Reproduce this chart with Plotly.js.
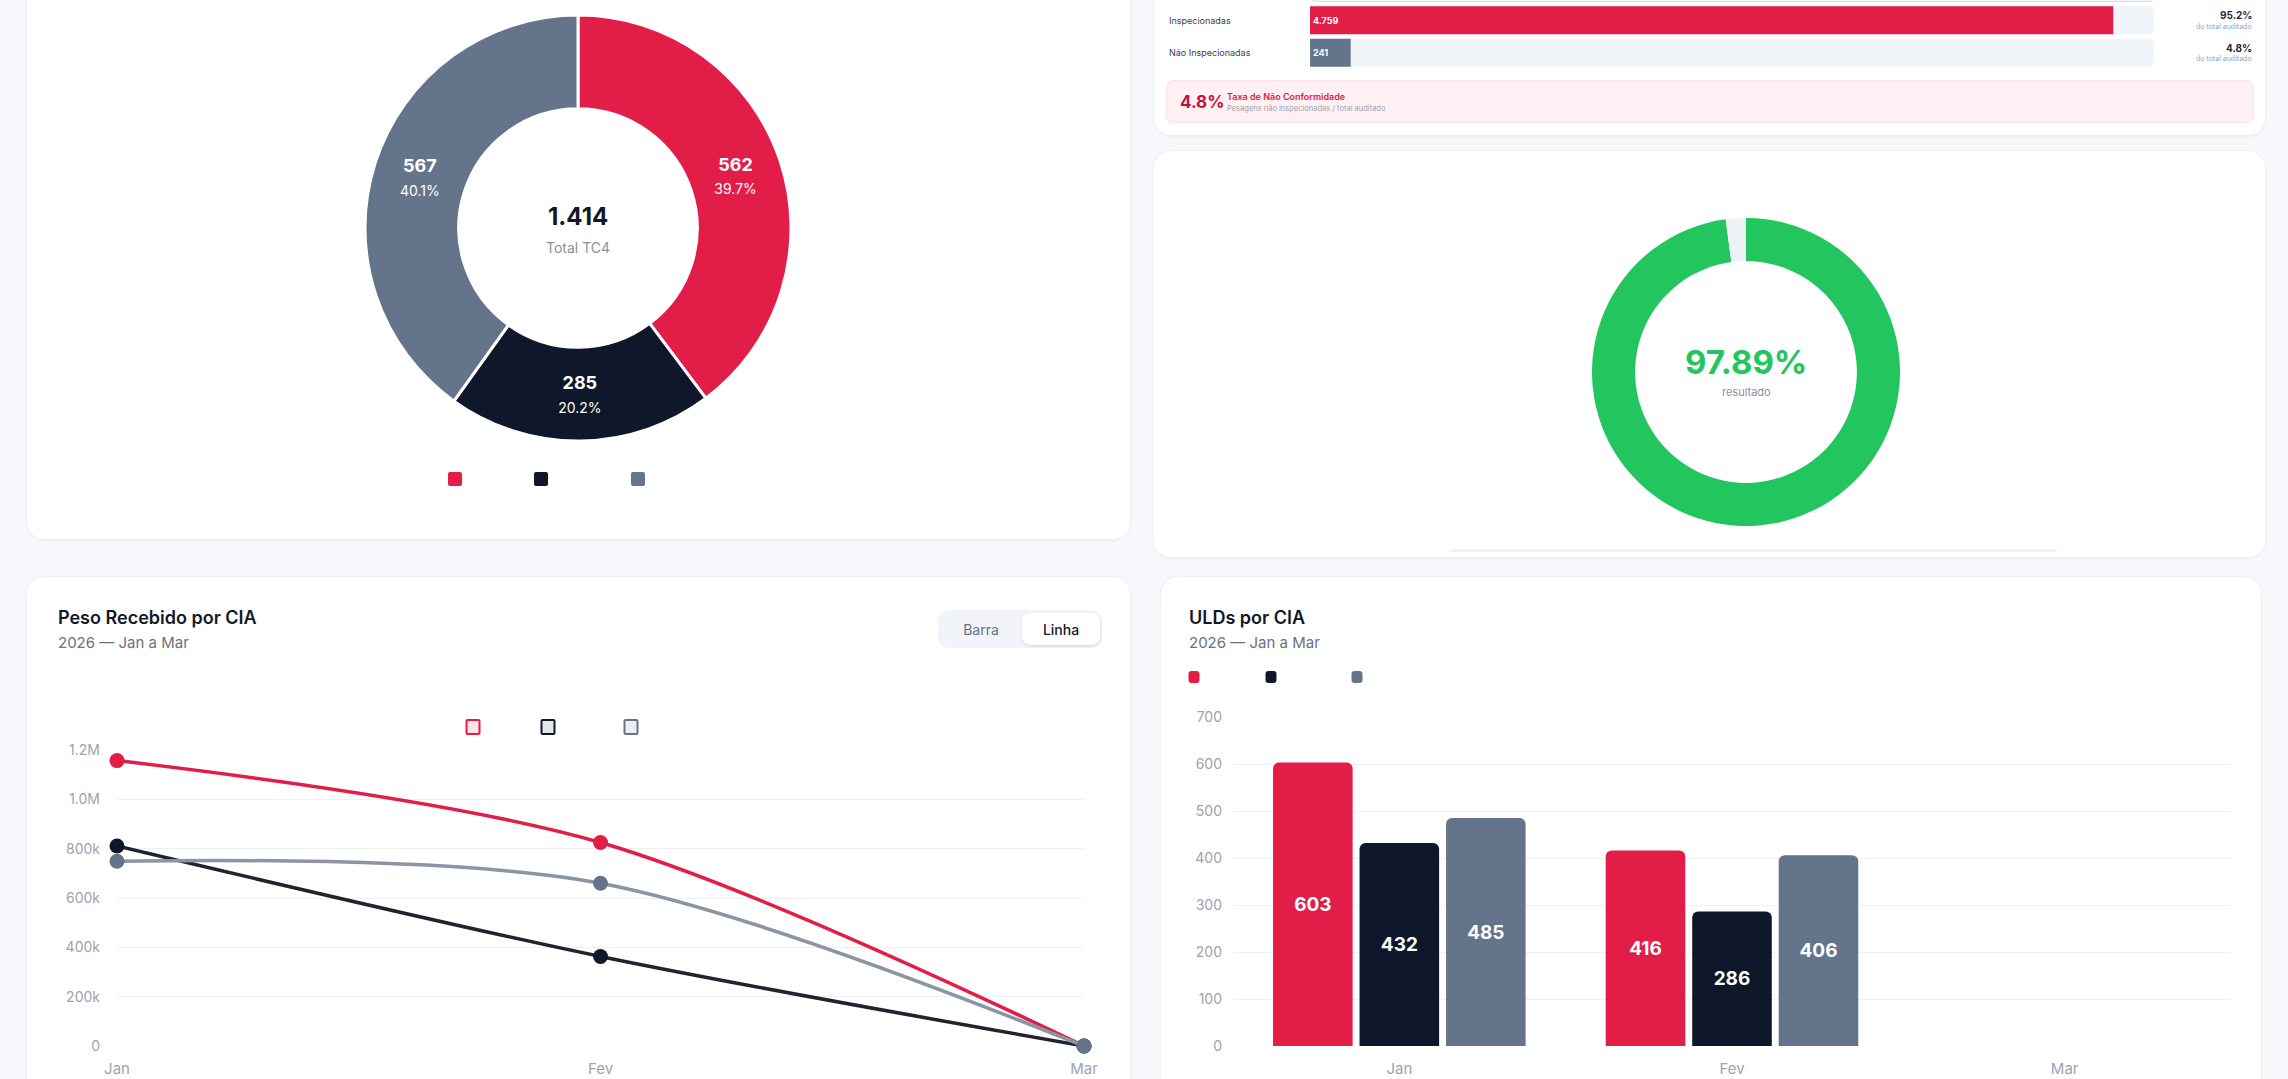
<!DOCTYPE html>
<html lang="pt-BR">
<head>
<meta charset="utf-8">
<title>Painel de Auditoria de Cargas</title>
<script src="https://cdn.plot.ly/plotly-3.0.1.min.js"></script>
<style>
  html, body { margin: 0; padding: 0; width: 2288px; height: 1079px; overflow: hidden;
    background: #f6f8fb; font-family: Inter, "Noto Sans", sans-serif; color: #111827; }
  .card { position: absolute; background: #fff; border: 1px solid #edf0f4; border-radius: 18px;
    box-shadow: 0 1px 3px rgba(15, 23, 42, 0.04); box-sizing: border-box; }
  .abs { position: absolute; }
  .plot { position: absolute; }
  .title { position: absolute; font-size: 18px; font-weight: 600; color: #111827; transform: translateY(-50%); white-space: nowrap; }
  .subtitle { position: absolute; font-size: 15px; color: #6b7280; transform: translateY(-50%); white-space: nowrap; }
  .swatch { position: absolute; transform: translate(-50%, -50%); box-sizing: border-box; }
  .toggle { position: absolute; left: 938px; top: 610px; width: 164px; height: 38px; background: #f1f4f8;
    border-radius: 10px; box-sizing: border-box; }
  .toggle span { position: absolute; top: 50%; transform: translate(-50%, -50%); font-size: 14px; }
  .toggle .on { position: absolute; left: 84px; top: 3px; width: 78px; height: 32px; background: #fff; border-radius: 8px;
    box-shadow: 0 1px 3px rgba(15, 23, 42, 0.12); }
  .rate { position: absolute; left: 1166px; top: 80px; width: 1088px; height: 43px; background: #fff1f3;
    border: 1px solid #fde3e8; border-radius: 7px; box-sizing: border-box; }
</style>
</head>
<body>

<!-- cards -->
<div class="card" style="left:26px; top:-30px; width:1105px; height:570px;"></div>
<div class="card" style="left:1153px; top:-30px; width:1113px; height:166px;"></div>
<div class="card" style="left:1153px; top:150px; width:1113px; height:408px; border-color:#f1f3f6;"></div>
<div class="card" style="left:26px; top:576px; width:1105px; height:540px;"></div>
<div class="card" style="left:1160px; top:576px; width:1102px; height:540px;"></div>

<!-- row above the audit bars, mostly out of view -->
<div class="abs" style="left:1310px; top:-26px; width:845px; height:28px; border:1px solid #dcdff0; border-radius:6px; background:#f3f5fb; box-sizing:border-box;"></div>

<!-- plots -->
<div id="donut" class="plot" style="left:365px; top:15px; width:426px; height:426px;"></div>
<div id="audit" class="plot" style="left:1167px; top:0px; width:1087px; height:72px;"></div>
<div id="gauge" class="plot" style="left:1592px; top:218px; width:308px; height:308px;"></div>
<div id="peso" class="plot" style="left:40px; top:700px; width:1070px; height:379px;"></div>
<div id="ulds" class="plot" style="left:1170px; top:690px; width:1080px; height:389px;"></div>

<!-- non-conformity rate box -->
<div class="rate">
  <div id="rateValue" class="abs" style="left:13px; top:50%; transform:translateY(-50%); font-size:17px; font-weight:700; color:#be123c;"></div>
  <div class="abs" style="left:60px; top:10px; font-size:9px; font-weight:600; color:#e11d48; white-space:nowrap;">Taxa de Não Conformidade</div>
  <div class="abs" style="left:60px; top:23px; font-size:7.5px; color:#9ca3af; white-space:nowrap;">Pesagens não inspecionadas / total auditado</div>
</div>

<!-- thin track under the gauge -->
<div class="abs" style="left:1451px; top:549px; width:606px; height:3px; background:#eef1f5; border-radius:2px;"></div>

<!-- panel headings -->
<div class="title" style="left:58px; top:617px;">Peso Recebido por CIA</div>
<div class="subtitle" style="left:58px; top:642px;">2026 — Jan a Mar</div>
<div class="toggle">
  <div class="on"></div>
  <span style="left:43px; color:#6b7280;">Barra</span>
  <span style="left:123px; color:#111827; font-weight:500;">Linha</span>
</div>
<div class="title" style="left:1189px; top:617px;">ULDs por CIA</div>
<div class="subtitle" style="left:1189px; top:642px;">2026 — Jan a Mar</div>

<div id="legends"></div>

<script>
// ---- data ----
const months = ['Jan', 'Fev', 'Mar'];
const ciaColors = ['#e11d48', '#0f172a', '#64748b'];
const ciaLineColors = ['#e11d48', '#1e2430', '#8a94a3'];
const ciaLegendFill = ['#fde4ea', '#e5e7eb', '#eceef1'];

const tc4Values = [562, 285, 567];

const auditCategories = ['Inspecionadas', 'Não Inspecionadas'];
const auditValues = [4759, 241];
const auditColors = ['#e11d48', '#64748b'];

const resultadoPct = 97.89;

const pesoCia1 = [1157000, 825000, 0];
const pesoCia2 = [811000, 363000, 0];
const pesoCia3 = [749000, 660000, 0];
const pesoTickVals = [0, 200000, 400000, 600000, 800000, 1000000, 1200000];
const pesoTickText = ['0', '200k', '400k', '600k', '800k', '1.0M', '1.2M'];

const uldCia1 = [603, 416, 0];
const uldCia2 = [432, 286, 0];
const uldCia3 = [485, 406, 0];

// ---- shared settings ----
const FONT = 'Inter, "Noto Sans", sans-serif';
const cfg = { displayModeBar: false, staticPlot: true, responsive: false };
const baseLayout = (extra) => Object.assign({
  paper_bgcolor: 'rgba(0,0,0,0)',
  plot_bgcolor: 'rgba(0,0,0,0)',
  font: { family: FONT, color: '#111827' },
  showlegend: false,
  hovermode: false
}, extra);

// ---- TC4 donut ----
const tc4Total = tc4Values.reduce((a, b) => a + b, 0);
Plotly.newPlot('donut', [{
  type: 'pie',
  values: tc4Values,
  marker: { colors: ciaColors, line: { color: '#ffffff', width: 3 } },
  hole: 0.56,
  sort: false,
  direction: 'clockwise',
  rotation: 0,
  textposition: 'inside',
  insidetextorientation: 'horizontal',
  texttemplate: '<b>%{value}</b><br><span style="font-size:14px">%{percent:.1%}</span>',
  textfont: { color: '#ffffff', size: 18, family: FONT },
  hoverinfo: 'none'
}], baseLayout({
  width: 426, height: 426,
  margin: { l: 0, r: 0, t: 0, b: 0 },
  annotations: [
    { text: '<b>' + tc4Total.toLocaleString('pt-BR') + '</b>', x: 0.5, y: 0.527, xref: 'paper', yref: 'paper',
      showarrow: false, font: { size: 24, color: '#111827', family: FONT } },
    { text: 'Total TC4', x: 0.5, y: 0.455, xref: 'paper', yref: 'paper',
      showarrow: false, font: { size: 14, color: '#8b919b', family: FONT } }
  ]
}), cfg);

// ---- audit bars ----
const auditTotal = auditValues.reduce((a, b) => a + b, 0);
const auditPct = auditValues.map(v => (v / auditTotal * 100).toFixed(1) + '%');
const auditAnn = [];
auditCategories.forEach((c, i) => {
  auditAnn.push({ text: c, x: 0, xref: 'paper', xanchor: 'left', y: c, yref: 'y',
    showarrow: false, font: { size: 9, color: '#374151', family: FONT } });
  auditAnn.push({ text: '<b>' + auditPct[i] + '</b>', x: 1, xref: 'paper', xanchor: 'right', y: c, yref: 'y',
    yshift: 5, showarrow: false, font: { size: 10, color: '#1f2937', family: FONT } });
  auditAnn.push({ text: 'do total auditado', x: 1, xref: 'paper', xanchor: 'right', y: c, yref: 'y',
    yshift: -6, showarrow: false, font: { size: 7, color: '#9ca3af', family: FONT } });
});
Plotly.newPlot('audit', [
  { type: 'bar', orientation: 'h', y: auditCategories, x: auditCategories.map(() => auditTotal),
    marker: { color: '#f1f5fa', cornerradius: 5 }, hoverinfo: 'none' },
  { type: 'bar', orientation: 'h', y: auditCategories, x: auditValues,
    marker: { color: auditColors, cornerradius: 5 },
    text: auditValues.map(v => v.toLocaleString('pt-BR')),
    textposition: 'inside', insidetextanchor: 'start', constraintext: 'none',
    textfont: { color: '#ffffff', size: 9, family: FONT, weight: 700 }, hoverinfo: 'none' }
], baseLayout({
  width: 1087, height: 72,
  margin: { l: 0, r: 0, t: 4, b: 3 },
  barmode: 'overlay', bargap: 0.14,
  xaxis: { domain: [0.1316, 0.908], range: [0, auditTotal], visible: false, fixedrange: true },
  yaxis: { type: 'category', autorange: 'reversed', visible: false, fixedrange: true },
  annotations: auditAnn
}), cfg);
document.getElementById('rateValue').textContent = auditPct[1];

// ---- result gauge ----
Plotly.newPlot('gauge', [{
  type: 'pie',
  values: [resultadoPct, 100 - resultadoPct],
  marker: { colors: ['#22c55e', '#eef2f7'], line: { width: 0 } },
  hole: 0.72,
  sort: false,
  direction: 'clockwise',
  rotation: 0,
  textinfo: 'none',
  hoverinfo: 'none'
}], baseLayout({
  width: 308, height: 308,
  margin: { l: 0, r: 0, t: 0, b: 0 },
  annotations: [
    { text: '<b>' + resultadoPct.toFixed(2) + '%</b>', x: 0.5, y: 0.532, xref: 'paper', yref: 'paper',
      showarrow: false, font: { size: 33, color: '#22c55e', family: FONT } },
    { text: 'resultado', x: 0.5, y: 0.435, xref: 'paper', yref: 'paper',
      showarrow: false, font: { size: 11, color: '#8b919b', family: FONT } }
  ]
}), cfg);

// ---- weight received per carrier (line) ----
const pesoSeries = [pesoCia1, pesoCia2, pesoCia3];
Plotly.newPlot('peso', pesoSeries.map((ys, i) => ({
  type: 'scatter', mode: 'lines+markers', x: months, y: ys,
  line: { color: ciaLineColors[i], width: 3.5, shape: 'spline', smoothing: 0.9 },
  marker: { color: ciaColors[i], size: 15 },
  cliponaxis: false, hoverinfo: 'none'
})), baseLayout({
  width: 1070, height: 379,
  margin: { l: 77, r: 26, t: 50, b: 33 },
  xaxis: { type: 'category', range: [0, 2], showgrid: false, zeroline: false, showline: false,
    ticks: '', ticklabelstandoff: 12, tickfont: { size: 15, color: '#9ca3af', family: FONT } },
  yaxis: { range: [0, 1200000], tickvals: pesoTickVals, ticktext: pesoTickText,
    showgrid: true, gridcolor: '#eef0f3', gridwidth: 1, zeroline: false, showline: false,
    ticks: '', ticklabelstandoff: 16, tickfont: { size: 14, color: '#9ca3af', family: FONT } }
}), cfg);

// ---- ULDs per carrier (grouped bars) ----
const uldSeries = [uldCia1, uldCia2, uldCia3];
Plotly.newPlot('ulds', uldSeries.map((ys, i) => ({
  type: 'bar', x: months, y: ys,
  marker: { color: ciaColors[i], cornerradius: 6 },
  text: ys.map(v => v ? String(v) : ''),
  textposition: 'inside', insidetextanchor: 'middle', constraintext: 'none',
  textfont: { color: '#ffffff', size: 19, family: FONT, weight: 700 },
  hoverinfo: 'none'
})), baseLayout({
  width: 1080, height: 389,
  margin: { l: 63, r: 19, t: 27, b: 33 },
  barmode: 'group', bargap: 0.22, bargroupgap: 0.08,
  xaxis: { type: 'category', showgrid: false, zeroline: false, showline: false,
    ticks: '', ticklabelstandoff: 12, tickfont: { size: 15, color: '#9ca3af', family: FONT } },
  yaxis: { range: [0, 700], dtick: 100, showgrid: true, gridcolor: '#eef0f3', zeroline: false, showline: false,
    ticks: '', ticklabelstandoff: 10, tickfont: { size: 14, color: '#9ca3af', family: FONT } }
}), cfg);

// ---- legend swatches (carrier names are left blank) ----
const legendHost = document.getElementById('legends');
function swatch(cx, cy, w, h, style) {
  const d = document.createElement('div');
  d.className = 'swatch';
  d.style.left = cx + 'px'; d.style.top = cy + 'px';
  d.style.width = w + 'px'; d.style.height = h + 'px';
  Object.assign(d.style, style);
  legendHost.appendChild(d);
}
[455, 541, 638].forEach((cx, i) => swatch(cx, 479, 14, 14, { background: ciaColors[i], borderRadius: '2px' }));
[473, 548, 631].forEach((cx, i) => swatch(cx, 727, 15, 16, { background: ciaLegendFill[i], border: '2.5px solid ' + ciaColors[i], borderRadius: '2px' }));
[1194, 1271, 1357].forEach((cx, i) => swatch(cx, 677, 11, 12, { background: ciaColors[i], borderRadius: '3px' }));
</script>
</body>
</html>
